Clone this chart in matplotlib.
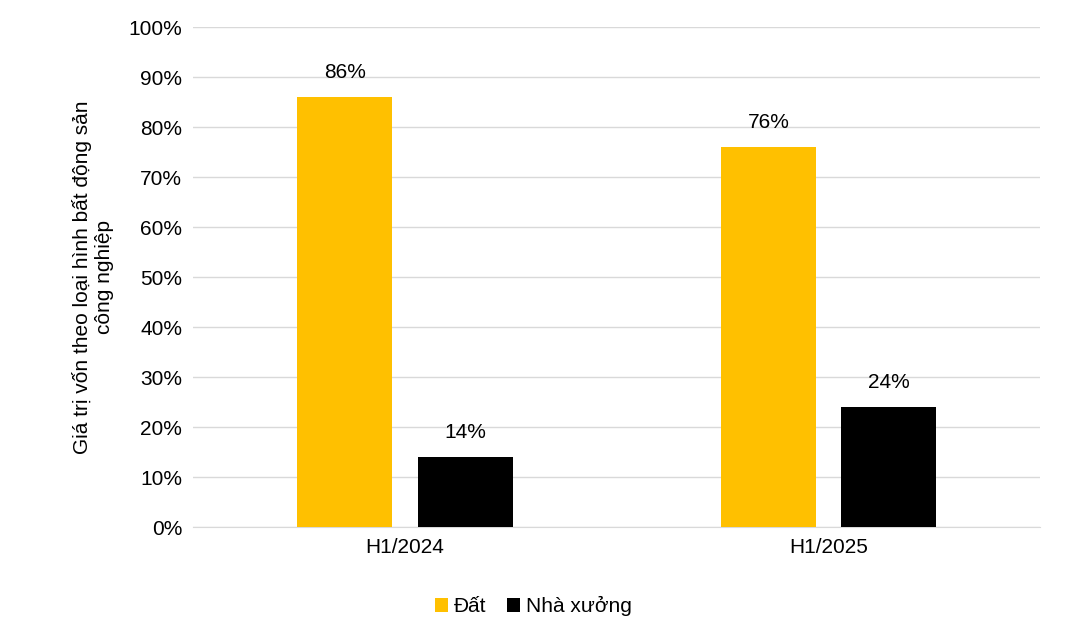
import matplotlib
matplotlib.use('Agg')
import matplotlib.pyplot as plt
import numpy as np

plt.rcParams['font.family'] = ['Liberation Sans', 'DejaVu Sans']

periods = ['H1/2024', 'H1/2025']
dat = [86, 76]
nha_xuong = [14, 24]
series_names = ['Đất', 'Nhà xưởng']
colors = ['#FFC000', '#000000']

fig = plt.figure(figsize=(10.67, 6.35), dpi=100)
ax = fig.add_axes([0.181, 0.170, 0.794, 0.787])

x = np.arange(len(periods)) + 0.5
w = 0.224
for vals, off, name, c in [(dat, -0.142, series_names[0], colors[0]),
                           (nha_xuong, 0.142, series_names[1], colors[1])]:
    bars = ax.bar(x + off, vals, w, color=c, label=name, zorder=3)
    for b, v in zip(bars, vals):
        ax.text(b.get_x() + b.get_width() / 2, v + 3, f'{v}%',
                ha='center', va='bottom', fontsize=15)

ax.set_xlim(0, 2)
ax.set_ylim(0, 100)
ax.set_xticks(x)
ax.set_xticklabels(periods, fontsize=15)
ax.set_yticks(range(0, 101, 10))
ax.set_yticklabels([f'{v}%' for v in range(0, 101, 10)], fontsize=15)
ax.grid(axis='y', color='#d9d9d9', linewidth=1, zorder=0)
for s in ['top', 'right', 'left']:
    ax.spines[s].set_visible(False)
ax.spines['bottom'].set_color('#d9d9d9')
ax.tick_params(axis='both', length=0, pad=8)
ax.set_ylabel('Giá trị vốn theo loại hình bất động sản\ncông nghiệp', fontsize=15,
              labelpad=10)

fig.legend(loc='lower center', bbox_to_anchor=(0.5, 0.0), ncol=2, frameon=False,
           fontsize=15, handlelength=0.6, handleheight=0.6, columnspacing=1.0,
           handletextpad=0.3)

fig.savefig('out.png', dpi=100)
